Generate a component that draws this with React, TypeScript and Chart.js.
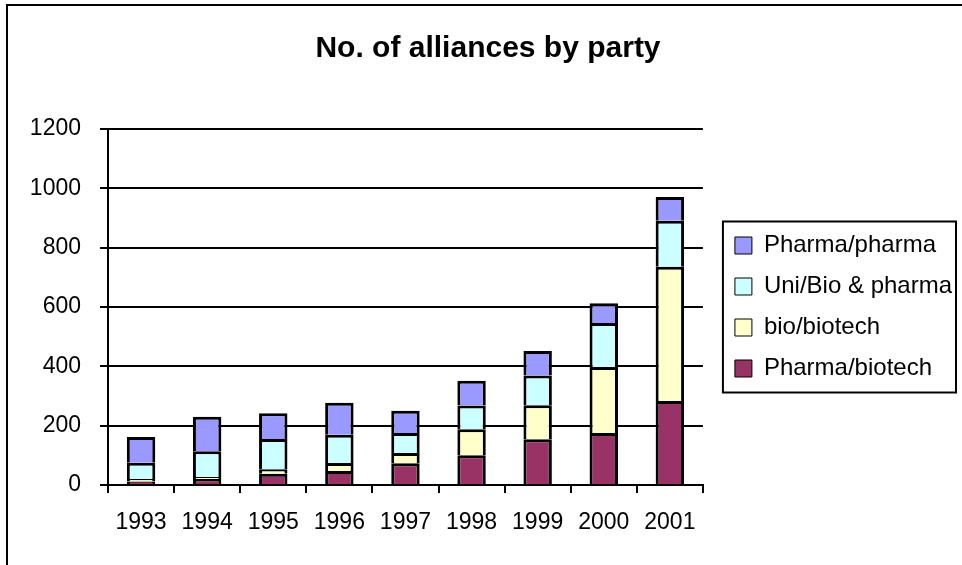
import React, { useEffect, useRef } from "react";
import { Chart, registerables } from "chart.js";

Chart.register(...registerables);

const years = ["1993", "1994", "1995", "1996", "1997", "1998", "1999", "2000", "2001"];
const pharmaBiotech = [12, 20, 38, 47, 73, 100, 154, 175, 283];
const bioBiotech = [8, 7, 15, 27, 35, 88, 115, 223, 453];
const uniBioPharma = [55, 87, 102, 95, 67, 80, 100, 148, 155];
const pharmaPharma = [87, 116, 87, 108, 75, 83, 83, 67, 80];
const yTicks = [0, 200, 400, 600, 800, 1000, 1200];

const FONT = "'Liberation Sans', Arial, sans-serif";

const framePlugin = {
  id: "frame",
  beforeDraw(chart: any) {
    const ctx = chart.ctx;
    ctx.save();
    ctx.fillStyle = "#ffffff";
    ctx.fillRect(0, 0, chart.width, chart.height);
    ctx.strokeStyle = "#000000";
    ctx.lineWidth = 2;
    ctx.beginPath();
    ctx.moveTo(7, chart.height);
    ctx.lineTo(7, 5);
    ctx.lineTo(chart.width, 5);
    ctx.stroke();
    ctx.restore();
  },
  afterDraw(chart: any) {
    const lg = chart.legend;
    if (!lg || !lg.legendHitBoxes || !lg.legendHitBoxes.length) return;
    const hb = lg.legendHitBoxes;
    let l = Infinity, t = Infinity, r = -Infinity, b = -Infinity;
    for (const h of hb) {
      l = Math.min(l, h.left);
      t = Math.min(t, h.top);
      r = Math.max(r, h.left + h.width);
      b = Math.max(b, h.top + h.height);
    }
    const ctx = chart.ctx;
    ctx.save();
    ctx.strokeStyle = "#000000";
    ctx.lineWidth = 2;
    ctx.strokeRect(l - 12, t - 12, r - l + 16, b - t + 24);
    ctx.restore();
  },
};

export default function App() {
  const ref = useRef<HTMLCanvasElement>(null);

  useEffect(() => {
    document.body.style.margin = "0";
    const canvas = ref.current;
    if (!canvas) return;
    const chart = new Chart(canvas, {
      type: "bar",
      data: {
        labels: years,
        datasets: [
          { label: "Pharma/biotech", data: pharmaBiotech, backgroundColor: "#993366" },
          { label: "bio/biotech", data: bioBiotech, backgroundColor: "#FFFFCC" },
          { label: "Uni/Bio & pharma", data: uniBioPharma, backgroundColor: "#CCFFFF" },
          { label: "Pharma/pharma", data: pharmaPharma, backgroundColor: "#9999FF" },
        ].map((d) => ({
          ...d,
          borderColor: "#000000",
          borderWidth: 3,
          categoryPercentage: 1,
          barPercentage: 0.43,
        })),
      },
      options: {
        responsive: false,
        animation: false,
        devicePixelRatio: 1,
        font: { family: FONT },
        layout: { padding: { left: 14, right: 0, top: 0, bottom: 0 } },
        plugins: {
          title: {
            display: true,
            text: "No. of alliances by party",
            color: "#000000",
            font: { family: FONT, size: 30, weight: "bold", lineHeight: 1.2 },
            padding: { top: 31, bottom: 62 },
          },
          legend: {
            display: true,
            position: "right",
            fullSize: false,
            reverse: true,
            align: "center",
            maxWidth: 400,
            labels: {
              color: "#000000",
              font: { family: FONT, size: 24 },
              boxWidth: 17,
              boxHeight: 17,
              padding: 17,
              generateLabels(chart: any) {
                const items = Chart.defaults.plugins.legend.labels.generateLabels(chart);
                return items.map((it: any) => ({ ...it, lineWidth: 1 }));
              },
            },
          },
          tooltip: { enabled: false },
        },
        scales: {
          x: {
            stacked: true,
            offset: true,
            grid: {
              display: true,
              drawOnChartArea: false,
              drawTicks: true,
              tickLength: 8,
              color: "#000000",
              lineWidth: 2,
              offset: true,
            },
            border: { display: true, color: "#000000", width: 2 },
            ticks: {
              color: "#000000",
              font: { family: FONT, size: 23 },
              padding: 16,
              maxRotation: 0,
            },
            afterFit(scale: any) {
              scale.height = 80;
            },
          },
          y: {
            stacked: true,
            min: 0,
            max: 1200,
            afterBuildTicks(scale: any) {
              scale.ticks = yTicks.map((v) => ({ value: v }));
            },
            grid: {
              display: true,
              drawOnChartArea: true,
              drawTicks: true,
              tickLength: 8,
              color: "#000000",
              lineWidth: 2,
            },
            border: { display: true, color: "#000000", width: 2 },
            ticks: {
              color: "#000000",
              font: { family: FONT, size: 23 },
              padding: 19,
              callback: (v: any) => String(v),
            },
            afterFit(scale: any) {
              scale.width = 94;
            },
          },
          pad: {
            type: "linear",
            position: "right",
            display: true,
            ticks: { display: false },
            grid: { display: false },
            border: { display: false },
            afterFit(scale: any) {
              scale.width = 15;
            },
          },
        },
      },
      plugins: [framePlugin],
    } as any);
    return () => chart.destroy();
  }, []);

  return (
    <div style={{ width: 962, height: 565 }}>
      <canvas ref={ref} width={962} height={565} style={{ width: "962px", height: "565px", display: "block" }} />
    </div>
  );
}
